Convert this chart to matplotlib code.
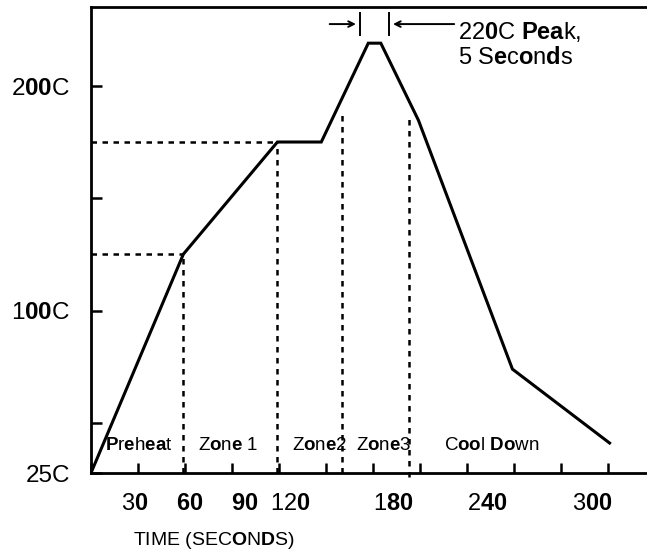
import re
import matplotlib
matplotlib.use('Agg')
from matplotlib import pyplot as plt
from matplotlib.transforms import blended_transform_factory

plt.rcParams['font.family'] = ['Liberation Sans', 'DejaVu Sans']
plt.rcParams['mathtext.fontset'] = 'custom'
plt.rcParams['mathtext.rm'] = 'Liberation Sans'
plt.rcParams['mathtext.bf'] = 'Liberation Sans:bold'

# reflow profile (time in s, temperature in C)
times = [0, 59, 119, 147, 177, 185, 209, 269, 331]
temps = [27.75, 125.2, 175.1, 175.1, 219.1, 219.1, 184.8, 74.0, 41.1]

# dashed guide lines
h_guides = [125.2, 175.1]          # horizontal levels, from y axis to curve
h_ends = [59, 119]
v_guides = [59, 119, 160, 203]     # zone boundaries
v_tops = [125.2, 175.1, 188.4, 186.6]
v_bottoms = [27.75, 27.75, 27.75, 26.0]

# labels ([..] = bold parts, as in the original image)
ytick_vals = [27.75, 50, 100, 150, 200]
ytick_text = ['25C', '', '1[00]C', '', '2[00]C']
xtick_vals = [0, 30, 60, 90, 120, 150, 180, 210, 240, 270, 300, 330]
xlab_pos = [28, 63, 98, 127, 193, 253, 320]
xlab_text = ['3[0]', '[60]', '[90]', '12[0]', '1[80]', '2[40]', '3[00]']
zone_pos = [30.6, 87.8, 145.8, 187, 255.6]
zone_text = ['[P]r[e]h[ea]t', 'Z[o]n[e] 1', 'Z[o]n[e]2', 'Z[o]n[e]3', 'C[oo]l [Do]wn']
peak_window = [171.7, 190.2]


def mixed(s):
    return re.sub(r'\[([^\]]+)\]', r'$\\mathbf{\1}$', s)


fig = plt.figure(figsize=(6.47, 5.52), dpi=100)
ax = fig.add_axes([0.1406, 0.1431, 0.8594, 0.8442])

ax.plot(times, temps, color='black', lw=2.2, solid_joinstyle='miter')

for y, xe in zip(h_guides, h_ends):
    ax.plot([0, xe], [y, y], color='black', lw=1.8, ls=(0, (2.2, 2.2)))
for x, yt, yb in zip(v_guides, v_tops, v_bottoms):
    ax.plot([x, x], [yb, yt], color='black', lw=1.8, ls=(0, (2.2, 2.2)),
            clip_on=False)

ax.set_xlim(0, 354.9)
ax.set_ylim(27.75, 235.2)

ax.spines['right'].set_visible(False)
for s in ['left', 'bottom', 'top']:
    ax.spines[s].set_linewidth(2.0)

ax.set_xticks(xtick_vals)
ax.set_xticklabels([])
ax.tick_params(axis='x', direction='in', length=7, width=1.8)
ax.set_yticks(ytick_vals)
ax.set_yticklabels([mixed(t) for t in ytick_text], fontsize=17.5)
ax.tick_params(axis='y', direction='in', length=8, width=1.8, pad=15)

tr = blended_transform_factory(ax.transData, ax.transAxes)
for x, t in zip(xlab_pos, xlab_text):
    ax.text(x, -0.066, mixed(t), transform=tr, ha='center', va='center',
            fontsize=17)
ax.text(78.3, -0.145, mixed('TIME (SEC[O]N[D]S)'), transform=tr,
        ha='center', va='center', fontsize=14)

for x, t in zip(zone_pos, zone_text):
    ax.text(x, 40.2, mixed(t), ha='center', va='center', fontsize=13.5)

# peak duration arrows
for xb in peak_window:
    ax.plot([xb, xb], [222.7, 232.5], color='black', lw=1.4)
ax.annotate('', xy=(peak_window[0] - 0.8, 227.6), xytext=(150.6, 227.6),
            arrowprops=dict(arrowstyle='->', lw=1.4, color='black'))
ax.annotate('', xy=(peak_window[1] + 0.8, 227.6), xytext=(233.6, 227.6),
            arrowprops=dict(arrowstyle='->', lw=1.4, color='black'))
ax.text(234.5, 224.0, mixed('22[0]C [Pea]k,'), ha='left', va='center',
        fontsize=17)
ax.text(234.5, 212.5, mixed('5 S[e]c[o]n[d]s'), ha='left', va='center',
        fontsize=17)

plt.savefig('out.png', dpi=100)
